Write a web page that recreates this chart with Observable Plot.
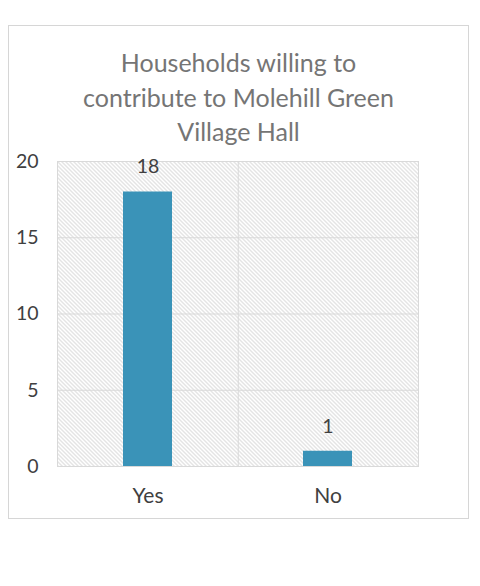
<!DOCTYPE html>
<html>
<head>
<meta charset="utf-8">
<script src="https://cdn.jsdelivr.net/npm/d3@7"></script>
<script src="https://cdn.jsdelivr.net/npm/@observablehq/plot@0.6"></script>
<style>
  html, body { margin: 0; padding: 0; background: #fff; }
  #box {
    position: absolute; left: 8px; top: 25px;
    width: 459px; height: 492px;
    border: 1px solid #d6d6d6;
    font-family: Lato, "Open Sans", sans-serif;
  }
  #title {
    margin: 0; padding-top: 19px;
    text-align: center; color: #757575;
    font-size: 25px; line-height: 34.5px; font-weight: 400;
  }
  #chart svg { display: block; }
</style>
</head>
<body>
<svg width="0" height="0" style="position:absolute">
  <defs>
    <pattern id="hatch" patternUnits="userSpaceOnUse" width="4" height="4">
      <rect width="4" height="4" fill="#ffffff"></rect>
      <path d="M-1,-1 L5,5 M-1,3 L1,5 M3,-1 L5,1" stroke="#c8c8c8" stroke-width="1"></path>
    </pattern>
  </defs>
</svg>
<div id="box">
  <div id="title">Households willing to<br>contribute to Molehill Green<br>Village Hall</div>
  <div id="chart"></div>
</div>
<script>
const categories = ["Yes", "No"];
const counts = [18, 1];
const yTicks = [0, 5, 10, 15, 20];

const data = categories.map((c, i) => ({answer: c, count: counts[i]}));

const W = 459, H = 369;
const mL = 48, mR = 50, mT = 12, mB = 52;
const halfStep = (W - mL - mR) / categories.length / 2;
const grey = "#d9d9d9";
const textCol = "#404040";

const plot = Plot.plot({
  width: W, height: H,
  marginLeft: mL, marginRight: mR, marginTop: mT, marginBottom: mB,
  style: {fontFamily: "Lato, 'Open Sans', sans-serif", fontSize: "19.5px", background: "transparent"},
  x: {domain: categories, paddingInner: 0.7285, paddingOuter: 0.364, label: null},
  y: {domain: [0, 20], label: null},
  marks: [
    Plot.frame({fill: "url(#hatch)", stroke: grey, strokeWidth: 1}),
    Plot.gridY(yTicks, {stroke: grey, strokeOpacity: 1, strokeWidth: 1}),
    Plot.ruleX(categories.slice(0, -1), {x: d => d, dx: halfStep, stroke: grey, strokeWidth: 1}),
    Plot.barY(data, {x: "answer", y: "count", fill: "#3a93b8"}),
    Plot.text(data, {x: "answer", y: "count", text: d => String(d.count), dy: -25, fill: textCol, fontSize: 19.5}),
    Plot.axisY({ticks: yTicks, tickSize: 0, tickPadding: 19, fontSize: 19.5, fill: textCol, label: null}),
    Plot.axisX({tickSize: 0, tickPadding: 22, fontSize: 21, fill: textCol, label: null})
  ]
});
document.getElementById("chart").appendChild(plot);
</script>
</body>
</html>
